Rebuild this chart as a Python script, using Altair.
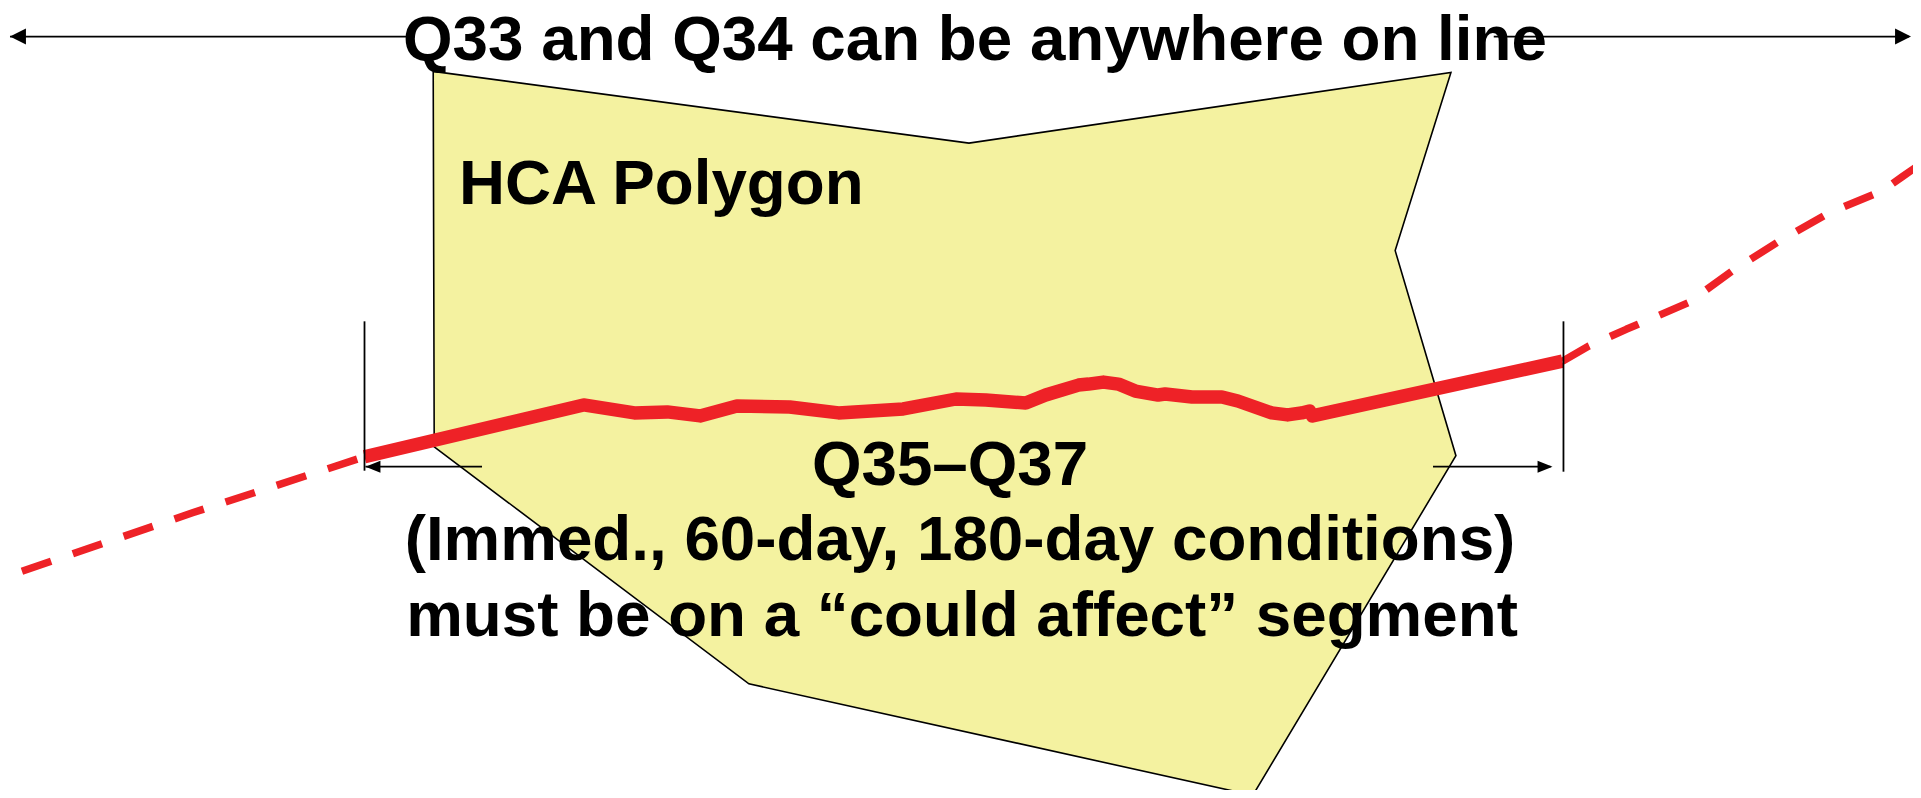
import altair as alt
import pandas as pd

# ---------------- data (picture coordinates, y grows downwards) ----------------
# HCA polygon outline
poly_x = [435, 973, 1457, 1401, 1462, 1258, 752, 436, 435]
poly_y = [70, 142, 71, 250, 456, 797, 685, 447, 70]

# solid "could affect" segment of the pipeline
solid_x = [366, 586, 637, 670, 703, 740, 793, 842, 907, 960, 990, 1030, 1050, 1083,
           1093, 1108, 1123, 1140, 1163, 1170, 1197, 1227, 1243, 1277, 1293, 1307,
           1315, 1318, 1569]
solid_y = [457, 405, 413, 412, 416, 406, 407, 413, 409, 399, 400, 403, 395, 385,
           384, 382, 384, 391, 395, 394, 397, 397, 401, 413, 415, 413,
           411, 416, 361]

# dashed pipeline outside the segment
dash_left_x = [22, 194, 366]
dash_left_y = [572, 513, 457]
dash_right_x = [1569, 1595, 1633, 1645, 1696, 1740, 1789, 1837, 1890, 1910, 1930]
dash_right_y = [361, 346, 329, 324, 302, 270, 239, 212, 190, 176, 162]

# arrow shafts and segment-end ticks: (x1, x2, y1, y2)
shaft_x1 = [10, 1500, 367, 1439, 366, 1570]
shaft_x2 = [408, 1917, 484, 1557, 366, 1570]
shaft_y1 = [35, 35, 467, 467, 321, 321]
shaft_y2 = [35, 35, 467, 467, 471, 472]

# arrow tips
tipL_x = [10, 367]
tipL_y = [35, 467]
tipL_kind = ["big", "small"]
tipR_x = [1919, 1559]
tipR_y = [35, 467]
tipR_kind = ["big", "small"]

# labels
label_text = [
    "Q33 and Q34 can be anywhere on line",
    "HCA Polygon",
    "Q35\u2013Q37",
    "(Immed., 60-day, 180-day conditions)",
    "must be on a \u201ccould affect\u201d segment",
]
label_x = [979, 664, 954, 964, 966]
label_y = [59, 203, 485, 561, 637]

# ---------------- chart ----------------
PW, PH = 1913, 782
xs = alt.Scale(domain=[8, 8 + PW], nice=False, zero=False)
ys = alt.Scale(domain=[8, 8 + PH], reverse=True, nice=False, zero=False)
X = lambda f: alt.X(f, type="quantitative", scale=xs, axis=None)
Y = lambda f: alt.Y(f, type="quantitative", scale=ys, axis=None)

RED = "#EE2227"
FILL = "#F4F2A0"
FONT = "Liberation Sans"

poly_df = pd.DataFrame({"x": poly_x, "y": poly_y, "i": range(len(poly_x))})
solid_df = pd.DataFrame({"x": solid_x, "y": solid_y, "i": range(len(solid_x))})
dash_df = pd.concat([
    pd.DataFrame({"x": dash_left_x, "y": dash_left_y, "i": range(len(dash_left_x)), "g": "left"}),
    pd.DataFrame({"x": dash_right_x, "y": dash_right_y, "i": range(len(dash_right_x)), "g": "right"}),
])
shaft_df = pd.DataFrame({"x1": shaft_x1, "x2": shaft_x2, "y1": shaft_y1, "y2": shaft_y2})
tipL_df = pd.DataFrame({"x": tipL_x, "y": tipL_y, "k": tipL_kind})
tipR_df = pd.DataFrame({"x": tipR_x, "y": tipR_y, "k": tipR_kind})
label_df = pd.DataFrame({"t": label_text, "x": label_x, "y": label_y})

polygon = alt.Chart(poly_df).mark_line(
    fill=FILL, stroke="black", strokeWidth=1.6, strokeJoin="miter"
).encode(x=X("x"), y=Y("y"), order=alt.Order("i:Q"))

dashed = alt.Chart(dash_df).mark_line(
    stroke=RED, strokeWidth=7.5, strokeDash=[31, 23], strokeCap="butt", strokeJoin="round"
).encode(x=X("x"), y=Y("y"), order=alt.Order("i:Q"), detail="g:N")

solid = alt.Chart(solid_df).mark_line(
    stroke=RED, strokeWidth=13.5, strokeCap="butt", strokeJoin="round", interpolate="linear"
).encode(x=X("x"), y=Y("y"), order=alt.Order("i:Q"))

shafts = alt.Chart(shaft_df).mark_rule(color="black", strokeWidth=1.8).encode(
    x=X("x1"), x2="x2:Q", y=Y("y1"), y2="y2:Q"
)

def tips(df, big_path, small_path):
    out = []
    for kind, path in (("big", big_path), ("small", small_path)):
        out.append(
            alt.Chart(df).transform_filter(alt.datum.k == kind).mark_point(
                shape=path, size=4, filled=True, fill="black", strokeWidth=0, opacity=1
            ).encode(x=X("x"), y=Y("y"))
        )
    return out

tipsL = tips(tipL_df, "M0,0 L16,-8 L16,8 Z", "M0,0 L15,-6 L15,6 Z")
tipsR = tips(tipR_df, "M0,0 L-16,-8 L-16,8 Z", "M0,0 L-15,-6 L-15,6 Z")

labels = alt.Chart(label_df).mark_text(
    font=FONT, fontSize=64, fontWeight="bold", align="center", baseline="alphabetic", color="black"
).encode(x=X("x"), y=Y("y"), text="t:N")

chart = alt.layer(polygon, dashed, solid, shafts, *tipsL, *tipsR, labels).properties(
    width=PW, height=PH, padding=0, autosize=alt.AutoSizeParams(type="none"),
    background="white",
).configure_view(stroke=None)

chart.save("out.html", embed_options={"renderer": "svg", "actions": False})
